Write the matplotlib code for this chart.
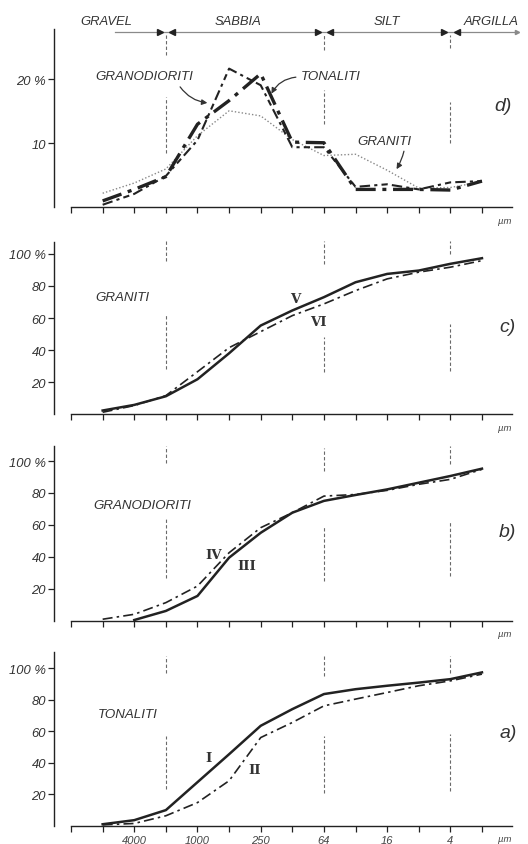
import numpy as np
import matplotlib
matplotlib.use("Agg")
import matplotlib.pyplot as plt

plt.rcParams['font.family'] = ['Liberation Sans', 'DejaVu Sans']

# grain size in phi units (1 tick = factor 2)
phi = [-3, -2, -1, 0, 1, 2, 3, 4, 5, 6, 7, 8, 9]
tick_phi = list(range(-4, 10))
label_phi = [-2, 0, 2, 4, 6, 8]
label_um = ['4000', '1000', '250', '64', '16', '4']
bounds_phi = [-1, 4, 8]

# d) frequency curves (%)
tonaliti_d = [1.0, 2.8, 4.8, 13.0, 16.7, 20.9, 10.2, 10.1, 2.8, 2.8, 2.8, 2.7, 4.1]
granodioriti_d = [0.4, 2.1, 4.9, 10.5, 21.7, 19.1, 9.4, 9.4, 3.2, 3.6, 2.8, 3.9, 4.1]
graniti_d = [2.2, 3.8, 6.0, 11.2, 15.1, 14.3, 10.6, 8.1, 8.3, 5.8, 3.0, 3.1, 4.0]

# c) cumulative, graniti
c_V = [2.3, 5.8, 11.2, 21.8, 38.0, 55.3, 64.7, 73.0, 82.3, 87.5, 89.6, 93.8, 97.3]
c_VI = [1.2, 5.4, 11.6, 26.5, 41.5, 51.5, 61.5, 68.8, 77.1, 84.4, 88.6, 91.7, 95.8]
# b) cumulative, granodioriti
b_III = [np.nan, 0.3, 6.0, 15.4, 39.4, 55.0, 67.6, 75.0, 78.7, 82.2, 86.4, 90.6, 95.2]
b_IV = [0.8, 3.9, 11.2, 21.6, 42.5, 58.2, 67.6, 78.0, 79.0, 81.6, 85.4, 88.5, 94.8]
# a) cumulative, tonaliti
a_I = [0.8, 3.4, 9.8, 27.6, 45.4, 63.5, 74.1, 83.7, 86.8, 89.0, 91.0, 93.2, 97.5]
a_II = [0.4, 1.3, 6.2, 14.6, 28.5, 56.0, 65.6, 76.2, 80.5, 84.7, 89.0, 92.1, 96.4]

# broken vertical guide lines: (lo, hi) pairs per boundary
guides_d = [[(23.8, 27.0), (8.5, 17.2)], [(24.6, 27.0), (13.1, 18.3)], [(25.0, 27.0), (10.1, 16.4)]]
guides_c = [[(95.8, 108), (28.3, 62.6)], [(93.8, 108), (26.4, 48.3)], [(100, 108), (27.2, 56.4)]]
guides_b = [[(98.9, 109.3), (26.9, 64.5)], [(93.7, 108.3), (24.7, 59.2)], [(97.9, 109.3), (27.9, 62.3)]]
guides_a = [[(97.4, 108), (23.2, 57.1)], [(95.3, 108), (21.0, 57.1)], [(97.4, 108), (22.1, 58.2)]]

ink = '#222222'
grey = '#6a6a6a'
W, H = 528, 845

fig = plt.figure(figsize=(W / 100, H / 100), dpi=100)
left = 54.3 / W
width = (512 - 54.3) / W
xlim = (-4.53, 9.95)


def make_axes(top_px, bottom_px, ymax):
    ax = fig.add_axes([left, 1 - bottom_px / H, width, (bottom_px - top_px) / H])
    ax.set_xlim(*xlim)
    ax.set_ylim(0, ymax)
    for s in ['top', 'right']:
        ax.spines[s].set_visible(False)
    ax.spines['bottom'].set_bounds(-4, xlim[1])
    ax.spines['left'].set_color(ink)
    ax.spines['bottom'].set_color(ink)
    ax.spines['left'].set_linewidth(1.0)
    ax.spines['bottom'].set_linewidth(1.0)
    ax.set_xticks(tick_phi)
    ax.set_xticklabels([])
    ax.tick_params(axis='x', direction='out', length=4, width=0.9, color=ink)
    ax.tick_params(axis='y', direction='out', length=4, width=0.9, color=ink,
                   labelsize=9.4, labelcolor='#333333', pad=2)
    ax.text(9.73, -0.075, 'µm', transform=ax.get_xaxis_transform(), fontsize=6.8,
            style='italic', color='#444444', ha='center', va='center')
    return ax


def guides(ax, segs):
    for b, pairs in zip(bounds_phi, segs):
        for lo, hi in pairs:
            ax.plot([b, b], [lo, hi], color=grey, lw=0.8, ls=(0, (3, 2)), clip_on=False)


def set_yticks(ax, ticks, labels):
    ax.set_yticks(ticks)
    ax.set_yticklabels(labels, fontstyle='italic')


txt = dict(style='italic', fontsize=9.6, color='#333333', ha='center', va='center')
letter = dict(style='italic', fontsize=14, color='#333333', ha='center', va='center')
rom = dict(family='DejaVu Serif', fontweight='bold', fontsize=9.5, color='#333333',
           ha='center', va='center')

# ---- d) ----
axd = make_axes(30.0, 208.3, 27.9)
set_yticks(axd, [10, 20], ['10', '20 %'])
guides(axd, guides_d)
axd.plot(phi, graniti_d, color='#888888', lw=1.0, ls=(0, (1, 1.5)))
axd.plot(phi, granodioriti_d, color=ink, lw=1.5, ls=(0, (5, 2, 1.5, 2, 3, 2)))
axd.plot(phi, tonaliti_d, color=ink, lw=2.4, ls=(0, (6, 2, 1.2, 2)))
axd.text(-1.69, 20.5, 'GRANODIORITI', **txt)
axd.text(4.2, 20.5, 'TONALITI', **txt)
axd.text(5.9, 10.4, 'GRANITI', **txt)
axd.text(9.66, 15.9, 'd)', **letter)
arr = dict(arrowstyle='-|>', color='#333333', lw=0.9, mutation_scale=8)
axd.annotate('', xy=(0.4, 16.3), xytext=(-0.6, 19.2),
             arrowprops=dict(connectionstyle='arc3,rad=0.25', **arr))
axd.annotate('', xy=(2.3, 17.4), xytext=(3.2, 20.4),
             arrowprops=dict(connectionstyle='arc3,rad=0.3', **arr))
axd.annotate('', xy=(6.25, 5.6), xytext=(6.55, 9.2),
             arrowprops=dict(connectionstyle='arc3,rad=-0.1', **arr))

# class band along the top
yb = 27.4
axd.plot([-2.6, 10.1], [yb, yb], color='#8a8a8a', lw=0.9, clip_on=False)
for b in bounds_phi:
    axd.plot([b - 0.2], [yb], marker='>', ms=5, color=ink, clip_on=False)
    axd.plot([b + 0.2], [yb], marker='<', ms=5, color=ink, clip_on=False)
axd.plot([10.1], [yb], marker='>', ms=3, color='#8a8a8a', clip_on=False)
band = dict(style='italic', fontsize=9.4, color='#333333', ha='center', va='center')
for x, name in zip([-2.87, 1.27, 6.0, 9.3], ['GRAVEL', 'SABBIA', 'SILT', 'ARGILLA']):
    axd.text(x, 29.1, name, clip_on=False, **band)

# ---- c) ----
axc = make_axes(242.7, 415.2, 107.6)
set_yticks(axc, [20, 40, 60, 80, 100], ['20', '40', '60', '80', '100 %'])
guides(axc, guides_c)
axc.plot(phi, c_VI, color=ink, lw=1.2, ls=(0, (6, 2.5, 1.5, 2.5)))
axc.plot(phi, c_V, color=ink, lw=1.8)
axc.text(-2.36, 73, 'GRANITI', **txt)
axc.text(3.09, 72, 'V', **rom)
axc.text(3.81, 57.8, 'VI', **rom)
axc.text(9.82, 54.5, 'c)', **letter)

# ---- b) ----
axb = make_axes(446.7, 621.5, 109.6)
set_yticks(axb, [20, 40, 60, 80, 100], ['20', '40', '60', '80', '100 %'])
guides(axb, guides_b)
axb.plot(phi, b_IV, color=ink, lw=1.2, ls=(0, (6, 2.5, 1.5, 2.5)))
axb.plot(phi, b_III, color=ink, lw=1.8)
axb.text(-1.74, 72.2, 'GRANODIORITI', **txt)
axb.text(0.5, 41.5, 'IV', **rom)
axb.text(1.56, 34.6, 'III', **rom)
axb.text(9.82, 56.1, 'b)', **letter)

# ---- a) ----
axa = make_axes(653.3, 826.5, 110.3)
set_yticks(axa, [20, 40, 60, 80, 100], ['20', '40', '60', '80', '100 %'])
guides(axa, guides_a)
axa.plot(phi, a_II, color=ink, lw=1.2, ls=(0, (6, 2.5, 1.5, 2.5)))
axa.plot(phi, a_I, color=ink, lw=1.8)
axa.text(-2.2, 71.3, 'TONALITI', **txt)
axa.text(0.34, 43.3, 'I', **rom)
axa.text(1.82, 35.9, 'II', **rom)
axa.text(9.82, 59.2, 'a)', **letter)
for x, lab in zip(label_phi, label_um):
    axa.text(x, -0.085, lab, transform=axa.get_xaxis_transform(), fontsize=8,
             style='italic', color='#444444', ha='center', va='center')

fig.savefig('out.png', dpi=100)
